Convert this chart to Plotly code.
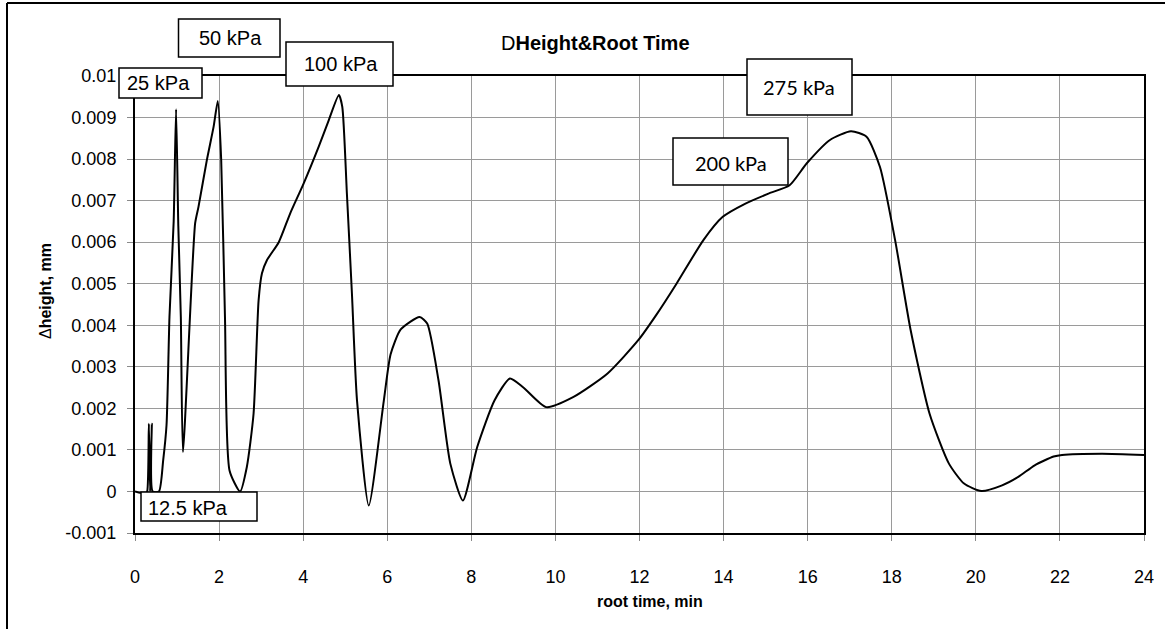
import plotly.graph_objects as go

# ---- data ----
root_time = [0, 0.25, 0.29, 0.33, 0.36, 0.40, 0.42, 0.57, 0.67, 0.75, 0.82, 0.92, 0.977,
             1.03, 1.09, 1.14, 1.43, 1.51, 1.71, 1.87, 1.97, 2.05, 2.14, 2.25, 2.50, 2.66,
             2.82, 2.94, 3.02, 3.14, 3.42, 3.69, 4.01, 4.37, 4.61, 4.85, 4.93, 5.04, 5.16,
             5.28, 5.56, 5.92, 6.08, 6.32, 6.77, 6.95, 7.22, 7.50, 7.80, 8.14, 8.55, 8.92,
             9.23, 9.78, 10.42, 11.24, 11.97, 12.42, 12.88, 13.52, 13.98, 14.52, 15.07,
             15.57, 15.98, 16.53, 17.03, 17.40, 17.72, 18.08, 18.45, 18.90, 19.36, 19.72,
             20.13, 20.61, 21.01, 21.40, 21.85, 22.05, 23.0, 24.0]
d_height = [0, -0.00005, 0, 0.00163, 0, 0.00163, 0, 0, 0.00075, 0.0016, 0.0042, 0.0065, 0.0092,
            0.0064, 0.0042, 0.00095, 0.00645, 0.00685, 0.00798, 0.00878, 0.0094, 0.00798,
            0.0042, 0.0005, 0.0, 0.00059, 0.00187, 0.0046, 0.00525, 0.00557, 0.0060, 0.00669,
            0.00741, 0.0083, 0.00894, 0.00954, 0.00926, 0.00717, 0.00476, 0.0022, -0.00034,
            0.0022, 0.0033, 0.0039, 0.0042, 0.00404, 0.00267, 0.00067, -0.00022, 0.00107,
            0.00219, 0.00272, 0.00251, 0.00203, 0.00227, 0.00284, 0.00364, 0.00428, 0.0050,
            0.00605, 0.00661, 0.00693, 0.00717, 0.00737, 0.0079, 0.00846, 0.00867, 0.00854,
            0.00781, 0.00605, 0.00388, 0.00187, 0.00067, 0.00019, 0.00001, 0.00014, 0.00035,
            0.00063, 0.00084, 0.00088, 0.00091, 0.00088]

y_tickvals = [-0.001, 0, 0.001, 0.002, 0.003, 0.004, 0.005, 0.006, 0.007, 0.008, 0.009, 0.01]
y_ticktext = ["-0.001", "0", "0.001", "0.002", "0.003", "0.004", "0.005", "0.006", "0.007",
              "0.008", "0.009", "0.01"]
x_tickvals = [0, 2, 4, 6, 8, 10, 12, 14, 16, 18, 20, 22, 24]

labels = ["25 kPa", "50 kPa", "100 kPa", "275 kPa", "200 kPa", "12.5 kPa"]

# ---- layout geometry (pixels) ----
W, H = 1165, 629
L, R, T, B = 135, 21, 76, 96
PW, PH = W - L - R, H - T - B

def px(X):
    return (X - L) / PW

def py(Y):
    return (H - B - Y) / PH

# label boxes: (x0, y0, x1, y1) and text centre
boxes = [(119, 68, 202, 98), (178.5, 19, 280, 57), (286, 42, 393, 86),
         (747, 59, 852, 115), (673, 138, 788, 185), (141, 492, 257, 521)]
text_pos = [(158, 83), (230.5, 38), (340.5, 64), (799, 87.5), (731, 162.5), (188, 507.5)]
label_fonts = ["Liberation Sans", "Liberation Sans", "Liberation Sans", "Lato", "Lato",
               "Liberation Sans"]

fig = go.Figure()
fig.add_trace(go.Scatter(x=root_time, y=d_height, mode="lines",
                         line=dict(color="black", width=2, shape="spline", smoothing=0.6),
                         showlegend=False, hoverinfo="x+y"))

shapes = []
annotations = []
for (x0, y0, x1, y1), (tx, ty), lab, fam in zip(boxes, text_pos, labels, label_fonts):
    shapes.append(dict(type="rect", xref="paper", yref="paper",
                       x0=px(x0), x1=px(x1), y0=py(y1), y1=py(y0),
                       line=dict(color="black", width=1.5), fillcolor="white", layer="above"))
    annotations.append(dict(text=lab, xref="paper", yref="paper", x=px(tx), y=py(ty),
                            xanchor="center", yanchor="middle", showarrow=False,
                            font=dict(family=fam, size=20, color="black")))

# outer chart frame (left and top edges visible)
shapes.append(dict(type="line", xref="paper", yref="paper", x0=px(7), x1=px(7),
                   y0=py(H + 5), y1=py(3), line=dict(color="black", width=2)))
shapes.append(dict(type="line", xref="paper", yref="paper", x0=px(7), x1=px(W + 5),
                   y0=py(3), y1=py(3), line=dict(color="black", width=2)))

# title and axis titles
annotations.append(dict(text="D<b>Height&amp;Root Time</b>", xref="paper", yref="paper",
                        x=px(595), y=py(43), xanchor="center", yanchor="middle",
                        showarrow=False,
                        font=dict(family="Liberation Sans", size=20, color="black")))
annotations.append(dict(text="<b>root time, min</b>", xref="paper", yref="paper",
                        x=px(650), y=py(601), xanchor="center", yanchor="middle",
                        showarrow=False,
                        font=dict(family="Liberation Sans", size=16, color="black")))
annotations.append(dict(text="Δ<b>height, mm</b>", xref="paper", yref="paper",
                        x=px(45), y=py(291), xanchor="center", yanchor="middle",
                        textangle=-90, showarrow=False,
                        font=dict(family="Liberation Sans", size=16, color="black")))

fig.update_layout(
    width=W, height=H,
    margin=dict(l=L, r=R, t=T, b=B, pad=0),
    paper_bgcolor="white", plot_bgcolor="white",
    font=dict(family="Liberation Sans", color="black"),
    shapes=shapes, annotations=annotations,
    xaxis=dict(range=[0, 24], tickvals=x_tickvals, showgrid=True, gridcolor="#9a9a9a",
               gridwidth=1, zeroline=False, showline=True, linecolor="black", linewidth=2,
               mirror=True, ticks="outside", ticklen=6, tickcolor="#8a8a8a",
               ticklabelstandoff=20, tickfont=dict(size=18, color="black")),
    yaxis=dict(range=[-0.001, 0.01], tickvals=y_tickvals, ticktext=y_ticktext,
               showgrid=True, gridcolor="#9a9a9a", gridwidth=1, zeroline=False,
               showline=True, linecolor="black", linewidth=2, mirror=True,
               ticks="outside", ticklen=6, tickcolor="#8a8a8a", ticklabelstandoff=7,
               tickfont=dict(size=18, color="black")),
)

fig.write_html("out.html")
